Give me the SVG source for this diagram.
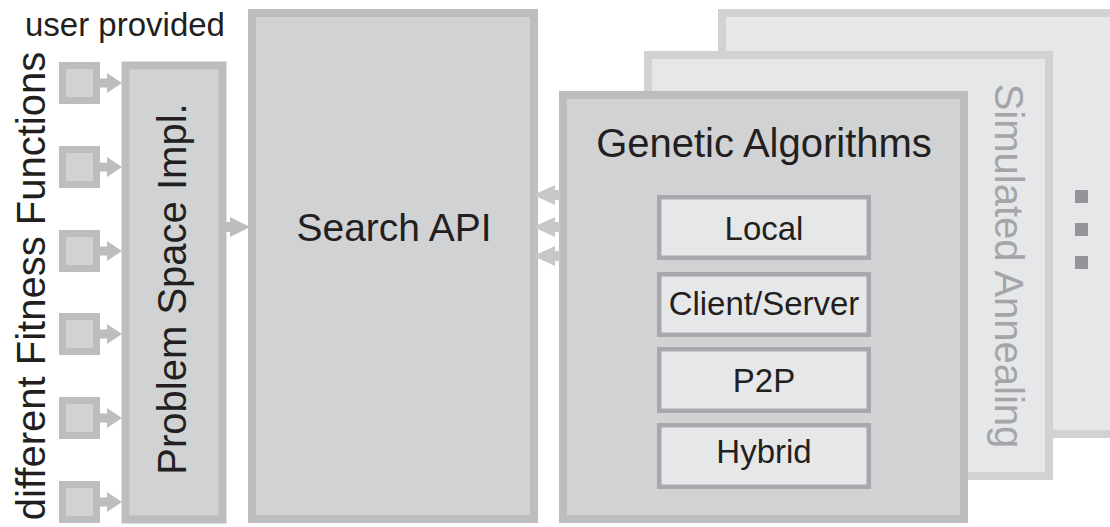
<svg xmlns="http://www.w3.org/2000/svg" width="1110" height="527" viewBox="0 0 1110 527">
<style>
.dark{fill:#d1d2d4;stroke:#bcbdbf;stroke-width:8}
.light{fill:#e6e7e8;stroke:#d1d2d4;stroke-width:8}
.sq{fill:#d1d2d4;stroke:#bcbdbf;stroke-width:7}
.inner{fill:#e6e7e8;stroke:#a7a9ac;stroke-width:4.5}
.t{font-family:"Liberation Sans",Arial,sans-serif;fill:#231f20}
.arr{fill:#bcbdbf}
.arr2{fill:#c7c8ca}
</style>
<rect width="1110" height="527" fill="#ffffff"/>
<g id="label-user-provided"><text class="t" x="25" y="36" font-size="33">user provided</text></g>
<g id="label-fitness"><text class="t" transform="translate(45,286) rotate(-90)" text-anchor="middle" font-size="40">different Fitness Functions</text></g>
<g id="fitness-functions">
<rect class="sq" x="62.5" y="65.5" width="34" height="35"/>
<rect class="sq" x="62.5" y="149.5" width="34" height="35"/>
<rect class="sq" x="62.5" y="233.5" width="34" height="35"/>
<rect class="sq" x="62.5" y="316.5" width="34" height="35"/>
<rect class="sq" x="62.5" y="400.5" width="34" height="35"/>
<rect class="sq" x="62.5" y="484.5" width="34" height="35"/>
</g>
<g id="problem-space">
<rect class="dark" x="125.5" y="65.5" width="97" height="454" stroke-width="7"/>
<text class="t" transform="translate(186,289) rotate(-90)" text-anchor="middle" font-size="40">Problem Space Impl.</text>
</g>
<g id="search-api">
<rect class="dark" x="252" y="13" width="282" height="506"/>
<text class="t" x="394" y="241" text-anchor="middle" font-size="39">Search API</text>
</g>
<g id="other-algorithms">
<rect class="light" x="722" y="13" width="400" height="421"/>
<rect x="1075" y="190" width="13" height="13" fill="#939598"/>
<rect x="1075" y="223" width="13" height="13" fill="#939598"/>
<rect x="1075" y="256" width="13" height="13" fill="#939598"/>
</g>
<g id="simulated-annealing">
<rect class="light" x="648" y="55" width="401" height="421"/>
<text transform="translate(995,266) rotate(90)" text-anchor="middle" font-size="40" font-family="Liberation Sans, Arial, sans-serif" fill="#a3a5a8">Simulated Annealing</text>
</g>
<g id="genetic-algorithms">
<rect class="dark" x="563" y="95" width="401" height="424"/>
<text class="t" x="764" y="157" text-anchor="middle" font-size="40">Genetic Algorithms</text>
</g>
<g id="local">
<rect class="inner" x="659.25" y="197.25" width="209.5" height="60.5"/>
<text class="t" x="764" y="240" text-anchor="middle" font-size="33">Local</text>
</g>
<g id="client-server">
<rect class="inner" x="659.25" y="274.25" width="209.5" height="60.5"/>
<text class="t" x="764" y="315" text-anchor="middle" font-size="33">Client/Server</text>
</g>
<g id="p2p">
<rect class="inner" x="659.25" y="349.25" width="209.5" height="61.5"/>
<text class="t" x="764" y="392" text-anchor="middle" font-size="33">P2P</text>
</g>
<g id="hybrid">
<rect class="inner" x="659.25" y="425.25" width="209.5" height="61.5"/>
<text class="t" x="764" y="463" text-anchor="middle" font-size="33">Hybrid</text>
</g>
<g id="connectors">
<g class="arr">
<rect x="100" y="78.5" width="8" height="9"/><polygon points="107,73 122,83 107,93"/>
<rect x="100" y="162.5" width="8" height="9"/><polygon points="107,157 122,167 107,177"/>
<rect x="100" y="246.5" width="8" height="9"/><polygon points="107,241 122,251 107,261"/>
<rect x="100" y="329.5" width="8" height="9"/><polygon points="107,324 122,334 107,344"/>
<rect x="100" y="413.5" width="8" height="9"/><polygon points="107,408 122,418 107,428"/>
<rect x="100" y="497.5" width="8" height="9"/><polygon points="107,492 122,502 107,512"/>
<rect x="226" y="222" width="5" height="10"/><polygon points="230,217 250,227 230,237"/>
</g>
<g class="arr2">
<rect x="554" y="190" width="6" height="10"/><polygon points="555,185 533,195 555,205"/>
<rect x="554" y="222" width="6" height="10"/><polygon points="555,217 533,227 555,237"/>
<rect x="554" y="251" width="6" height="10"/><polygon points="555,246 533,256 555,266"/>
</g>
</g>
</svg>
